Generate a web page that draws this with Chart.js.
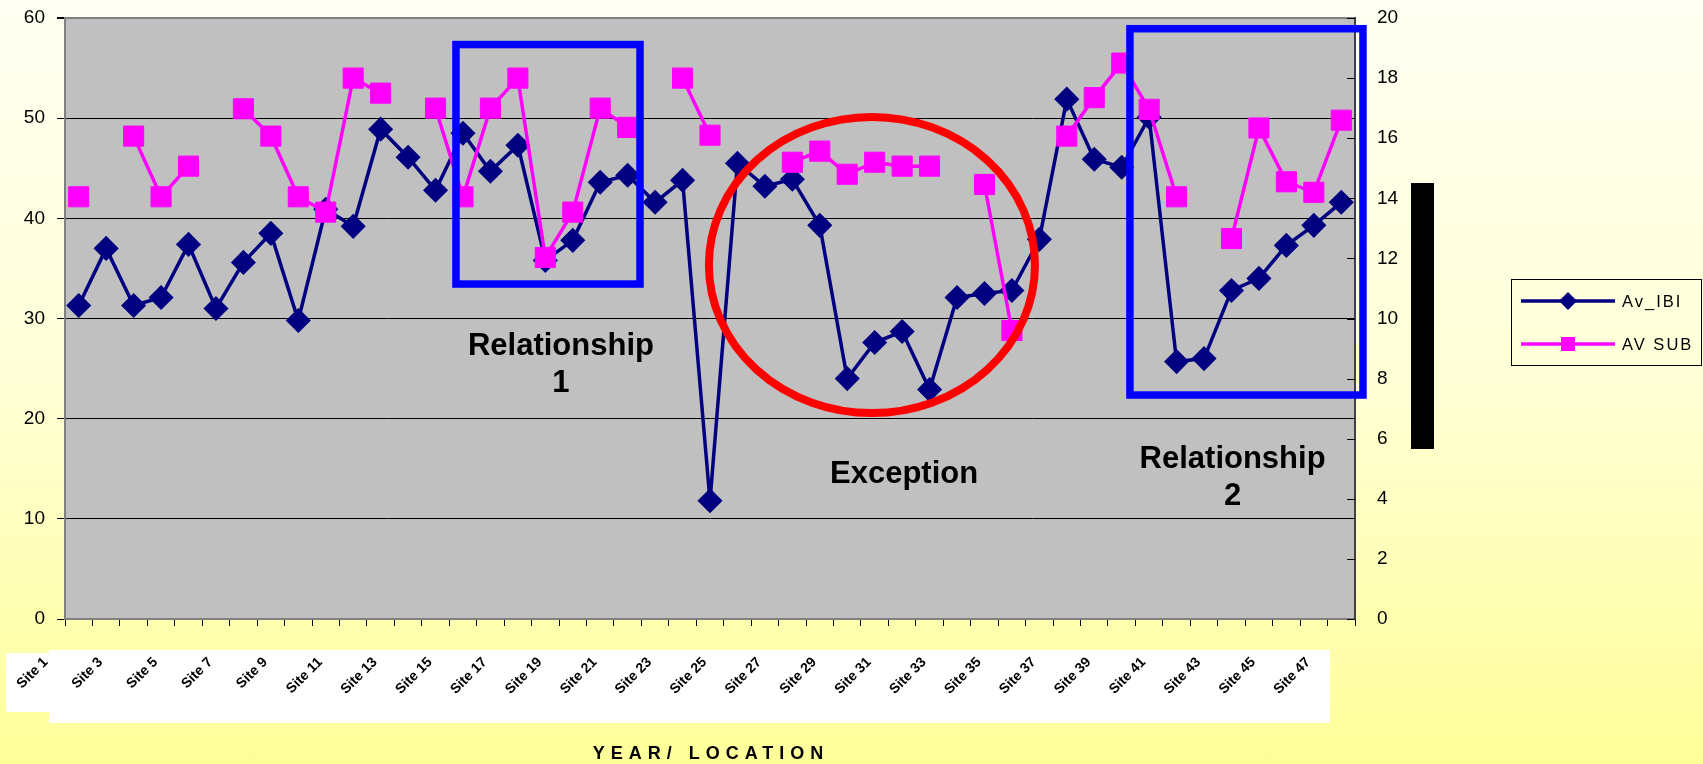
<!DOCTYPE html>
<html>
<head>
<meta charset="utf-8">
<script src="https://cdn.jsdelivr.net/npm/chart.js@4.4.1/dist/chart.umd.min.js"></script>
<style>
  html, body { margin: 0; padding: 0; }
  body {
    width: 1703px; height: 764px; overflow: hidden;
    background: linear-gradient(to bottom, #FFFFF3 0%, #FFFFD6 50%, #FFFF99 100%);
  }
  #wrap { position: relative; width: 1703px; height: 764px; }
</style>
</head>
<body>
<div id="wrap"><canvas id="c"></canvas></div>
<script>
// ---- DATA ----
// Category labels in the reference are illegible pixel glyphs; placeholders used.
const categories = ['Site 1','Site 2','Site 3','Site 4','Site 5','Site 6','Site 7','Site 8','Site 9','Site 10',
  'Site 11','Site 12','Site 13','Site 14','Site 15','Site 16','Site 17','Site 18','Site 19','Site 20',
  'Site 21','Site 22','Site 23','Site 24','Site 25','Site 26','Site 27','Site 28','Site 29','Site 30',
  'Site 31','Site 32','Site 33','Site 34','Site 35','Site 36','Site 37','Site 38','Site 39','Site 40',
  'Site 41','Site 42','Site 43','Site 44','Site 45','Site 46','Site 47'];

// Left axis series
const avIBI = [31.3, 37.0, 31.3, 32.1, 37.4, 31.0, 35.6, 38.5, 29.8, 40.9,
  39.2, 48.9, 46.1, 42.8, 48.5, 44.7, 47.3, 35.8, 37.8, 43.6,
  44.3, 41.6, 43.8, 11.8, 45.5, 43.2, 43.9, 39.3, 24.0, 27.6,
  28.7, 22.9, 32.1, 32.5, 32.8, 37.9, 51.9, 45.9, 45.1, 50.1,
  25.7, 26.0, 32.8, 34.0, 37.3, 39.3, 41.6];

// Right axis series (gaps = missing values)
const avSUB = [14.05, null, 16.07, 14.05, 15.07, null, 16.98, 16.07, 14.05, 13.54,
  18.0, 17.5, null, 17.0, 14.05, 17.0, 18.0, 12.03, 13.54, 17.0,
  16.36, null, 18.0, 16.1, null, null, 15.2, 15.57, 14.8, 15.2,
  15.07, 15.07, null, 14.46, 9.6, null, 16.07, 17.35, 18.5, 16.96,
  14.05, null, 12.66, 16.34, 14.55, 14.2, 16.6];

const seriesNames = ['Av_IBI', 'AV SUB'];
const leftTicks = [0, 10, 20, 30, 40, 50, 60];
const rightTicks = [0, 2, 4, 6, 8, 10, 12, 14, 16, 18, 20];
const xTitle = 'YEAR/ LOCATION';

// Annotations in data space (x = category index, y = left-axis value)
const boxes = [
  { x0: 13.745, x1: 20.45, y0: 57.35, y1: 33.44 },
  { x0: 38.30, x1: 46.79, y0: 58.93, y1: 22.36 }
];
const ring = { cx: 28.90, cy: 35.34, rx: 5.94, ry: 14.78 };
const notes = [
  { x: 17.57, y: 26.36, lines: ['Relationship', '1'] },
  { x: 30.07, y: 13.54, lines: ['Exception'] },
  { x: 42.04, y: 15.11, lines: ['Relationship', '2'] }
];

// ---- STYLE ----
const FONT = "'Liberation Sans', Arial, sans-serif";
Chart.defaults.font.family = FONT;
Chart.defaults.color = '#000';
const NAVY = '#000080', MAGENTA = '#FF00FF';

const decor = {
  id: 'decor',
  beforeDraw(chart) {
    const { ctx, chartArea: a } = chart;
    ctx.save();
    ctx.fillStyle = '#C0C0C0';
    ctx.fillRect(a.left, a.top, a.right - a.left, a.bottom - a.top);
    // white band behind category labels
    ctx.fillStyle = '#FFFFFF';
    ctx.fillRect(49, 650, 1281, 73);
    ctx.fillRect(6, 653, 43, 59);
    ctx.restore();
  },
  afterDatasetsDraw(chart) {
    const { ctx } = chart;
    const xs = chart.scales.x, ys = chart.scales.y, y1 = chart.scales.y1;
    ctx.save();
    // inward tick marks on secondary axis
    ctx.strokeStyle = '#000'; ctx.lineWidth = 1;
    y1.ticks.forEach(t => {
      const py = Math.round(y1.getPixelForValue(t.value)) + 0.5;
      ctx.beginPath(); ctx.moveTo(y1.left - 8, py); ctx.lineTo(y1.left, py); ctx.stroke();
    });
    // blue boxes
    ctx.strokeStyle = '#0000FF'; ctx.lineWidth = 7.5;
    boxes.forEach(b => {
      const X0 = xs.getPixelForValue(b.x0), X1 = xs.getPixelForValue(b.x1);
      const Y0 = ys.getPixelForValue(b.y0), Y1 = ys.getPixelForValue(b.y1);
      ctx.strokeRect(X0, Y0, X1 - X0, Y1 - Y0);
    });
    // red ellipse
    const cx = xs.getPixelForValue(ring.cx), cy = ys.getPixelForValue(ring.cy);
    const rx = xs.getPixelForValue(ring.cx + ring.rx) - cx;
    const ry = cy - ys.getPixelForValue(ring.cy + ring.ry);
    ctx.strokeStyle = '#FF0000'; ctx.lineWidth = 8;
    ctx.beginPath(); ctx.ellipse(cx, cy, rx, ry, 0, 0, Math.PI * 2); ctx.stroke();
    // notes
    ctx.fillStyle = '#000';
    ctx.font = 'bold 31px ' + FONT;
    ctx.textAlign = 'center'; ctx.textBaseline = 'alphabetic';
    notes.forEach(n => {
      const px = xs.getPixelForValue(n.x), py = ys.getPixelForValue(n.y);
      n.lines.forEach((l, i) => ctx.fillText(l, px, py + i * 37.5));
    });
    ctx.restore();
  },
  afterDraw(chart) {
    const { ctx } = chart;
    ctx.save();
    // black bar
    ctx.fillStyle = '#000';
    ctx.fillRect(1411, 183, 23, 266);
    // legend
    ctx.strokeStyle = '#000'; ctx.lineWidth = 1;
    ctx.strokeRect(1511.5, 279.5, 190, 86);
    chart.data.datasets.forEach((ds, k) => {
      const y = 301 + k * 43;
      ctx.strokeStyle = ds.borderColor; ctx.lineWidth = 3.5;
      ctx.beginPath(); ctx.moveTo(1521, y); ctx.lineTo(1615, y); ctx.stroke();
      ctx.fillStyle = ds.borderColor;
      if (k === 0) {
        ctx.beginPath();
        ctx.moveTo(1568, y - 9); ctx.lineTo(1577, y); ctx.lineTo(1568, y + 9); ctx.lineTo(1559, y);
        ctx.closePath(); ctx.fill();
      } else {
        ctx.fillRect(1561, y - 7, 14, 14);
      }
      ctx.fillStyle = '#000';
      ctx.font = '16.5px ' + FONT;
      ctx.letterSpacing = '2px';
      ctx.textAlign = 'left'; ctx.textBaseline = 'middle';
      ctx.fillText(ds.label, 1622, y + 1);
    });
    // x axis title
    ctx.font = 'bold 18px ' + FONT;
    ctx.letterSpacing = '6px';
    ctx.textAlign = 'center'; ctx.textBaseline = 'alphabetic';
    ctx.fillStyle = '#000';
    ctx.fillText(xTitle, 711, 759);
    ctx.letterSpacing = '0px';
    ctx.restore();
  }
};

new Chart(document.getElementById('c'), {
  type: 'line',
  data: {
    labels: categories,
    datasets: [
      {
        label: seriesNames[0], data: avIBI, yAxisID: 'y', order: 1,
        borderColor: NAVY, backgroundColor: NAVY, borderWidth: 3.5,
        pointStyle: 'rectRot', pointRadius: 11.5, pointBorderWidth: 1.5,
        pointBackgroundColor: NAVY, pointBorderColor: NAVY,
        tension: 0, spanGaps: false, fill: false
      },
      {
        label: seriesNames[1], data: avSUB, yAxisID: 'y1', order: 0,
        borderColor: MAGENTA, backgroundColor: MAGENTA, borderWidth: 3.5,
        pointStyle: 'rect', pointRadius: 14.2, pointBorderWidth: 1,
        pointBackgroundColor: MAGENTA, pointBorderColor: MAGENTA,
        tension: 0, spanGaps: false, fill: false
      }
    ]
  },
  options: {
    responsive: true, maintainAspectRatio: false, animation: false,
    layout: { padding: { top: 18, left: 0, right: 0, bottom: 0 } },
    plugins: { legend: { display: false }, tooltip: { enabled: false } },
    scales: {
      x: {
        type: 'category', offset: true,
        grid: { display: true, offset: true, drawOnChartArea: false, drawTicks: true, tickLength: 7, color: '#000', tickColor: '#000' },
        border: { display: true, color: '#808080', width: 2 },
        ticks: {
          autoSkip: false, minRotation: 45, maxRotation: 45, padding: 28, labelOffset: -33,
          font: { size: 14, weight: 'bold' }, color: '#000',
          callback: (v, i) => (i % 2 === 0 ? categories[i] : '')
        },
        afterFit: s => { s.height = 145; s.paddingLeft = 0; s.paddingRight = 0; }
      },
      y: {
        position: 'left', min: leftTicks[0], max: leftTicks[leftTicks.length - 1],
        afterBuildTicks: s => { s.ticks = leftTicks.map(v => ({ value: v })); },
        grid: {
          color: c => (c.tick && (c.tick.value === 60 || c.tick.value === 0)) ? '#808080' : '#000',
          lineWidth: c => (c.tick && c.tick.value === 60) ? 2 : 1,
          tickColor: '#000', tickLength: 8, drawTicks: true
        },
        border: { display: true, color: '#808080', width: 2 },
        ticks: { padding: 12, font: { size: 19 }, color: '#000' },
        afterFit: s => { s.width = 65; s.paddingTop = 0; s.paddingBottom = 0; }
      },
      y1: {
        position: 'right', min: rightTicks[0], max: rightTicks[rightTicks.length - 1],
        afterBuildTicks: s => { s.ticks = rightTicks.map(v => ({ value: v })); },
        grid: { display: true, drawOnChartArea: false, drawTicks: false },
        border: { display: true, color: '#404040', width: 2 },
        ticks: { padding: 22, font: { size: 19 }, color: '#000' },
        afterFit: s => { s.width = 348; s.paddingTop = 0; s.paddingBottom = 0; }
      }
    }
  },
  plugins: [decor]
});
</script>
</body>
</html>
